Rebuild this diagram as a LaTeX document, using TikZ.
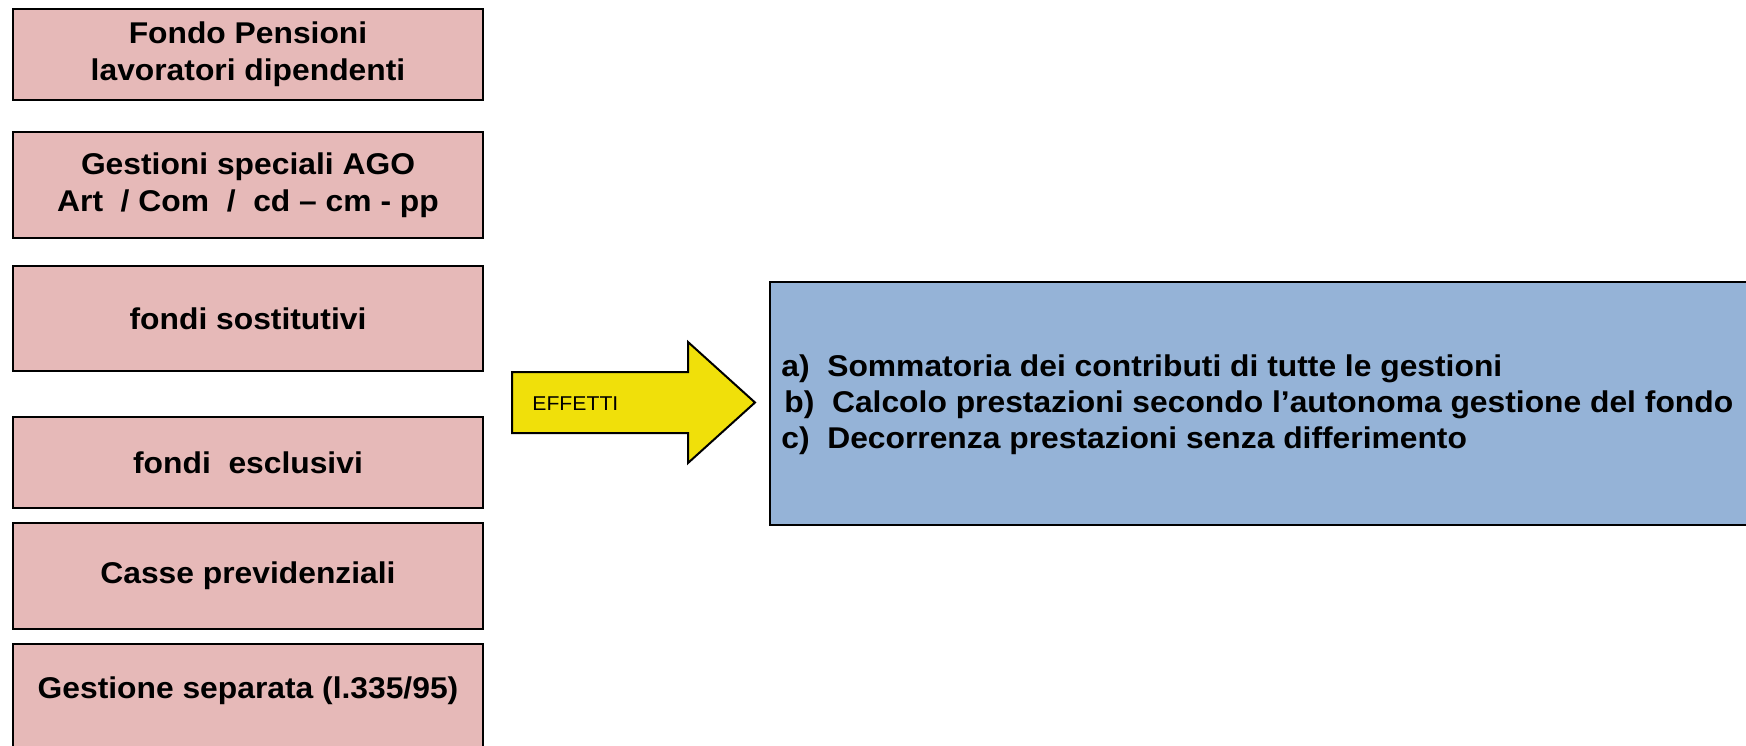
\documentclass[tikz,border=0pt]{standalone}
\usepackage{fontspec}
\setmainfont{Liberation Sans}[FakeStretch=1.06]
\usepackage{tikz}
\usetikzlibrary{positioning}
\definecolor{fondopink}{RGB}{230,185,184}
\definecolor{effblue}{RGB}{149,179,215}
\definecolor{effyellow}{RGB}{240,224,10}
\newcommand{\boxfont}{\fontsize{15pt}{18.5pt}\selectfont\bfseries}

\begin{document}
\begin{tikzpicture}[x=0.5pt,y=-0.5pt,
  fondo/.style={draw=black, line width=1pt, fill=fondopink, minimum width=235pt,
    align=center, font=\boxfont, inner sep=0pt, outer sep=0pt},
  item/.style={anchor=base west, inner sep=0pt, font=\boxfont}]
\useasboundingbox (0,0) rectangle (1746,745);
\clip (0,0) rectangle (1746,745);

\node (FP) [fondo, minimum height=45.5pt] at (248,54.5) {Fondo Pensioni\\lavoratori dipendenti};
\node (AGO) [fondo, minimum height=53pt, below=16pt of FP] {Gestioni speciali AGO\\Art\ \ / Com\ \ /\ \ cd -- cm - pp};
\node (sost) [fondo, minimum height=52.5pt, below=14pt of AGO] {fondi sostitutivi};
\node (escl) [fondo, minimum height=45.5pt, below=23pt of sost] {fondi\ \ esclusivi};
\node (casse) [fondo, minimum height=53pt, below=7.5pt of escl] {Casse previdenziali};
\node (sep) [fondo, minimum height=53pt, text depth=9.8pt, below=7.5pt of casse] {Gestione separata (l.335/95)};

\coordinate (tip) at (755,402.5);
\filldraw[draw=black, line width=1pt, fill=effyellow]
  (512,372) -- (688,372) -- (688,342) -- (tip) -- (688,463) -- (688,433) -- (512,433) -- cycle;
\node (eff) [anchor=base west, inner sep=0pt, font=\fontsize{10pt}{12pt}\selectfont] at (532,410) {EFFETTI};

\node (res) [draw=black, line width=1pt, fill=effblue, anchor=north west, inner sep=0pt,
  minimum width=500.5pt, minimum height=121.5pt] at (769,281) {};
\node (a) [item] at (781,376) {a)\ \ Sommatoria dei contributi di tutte le gestioni};
\node (b) [item] at (784,412) {b)\ \ Calcolo prestazioni secondo l’autonoma gestione del fondo};
\node (c) [item] at (781,448) {c)\ \ Decorrenza prestazioni senza differimento};
\end{tikzpicture}
\end{document}
